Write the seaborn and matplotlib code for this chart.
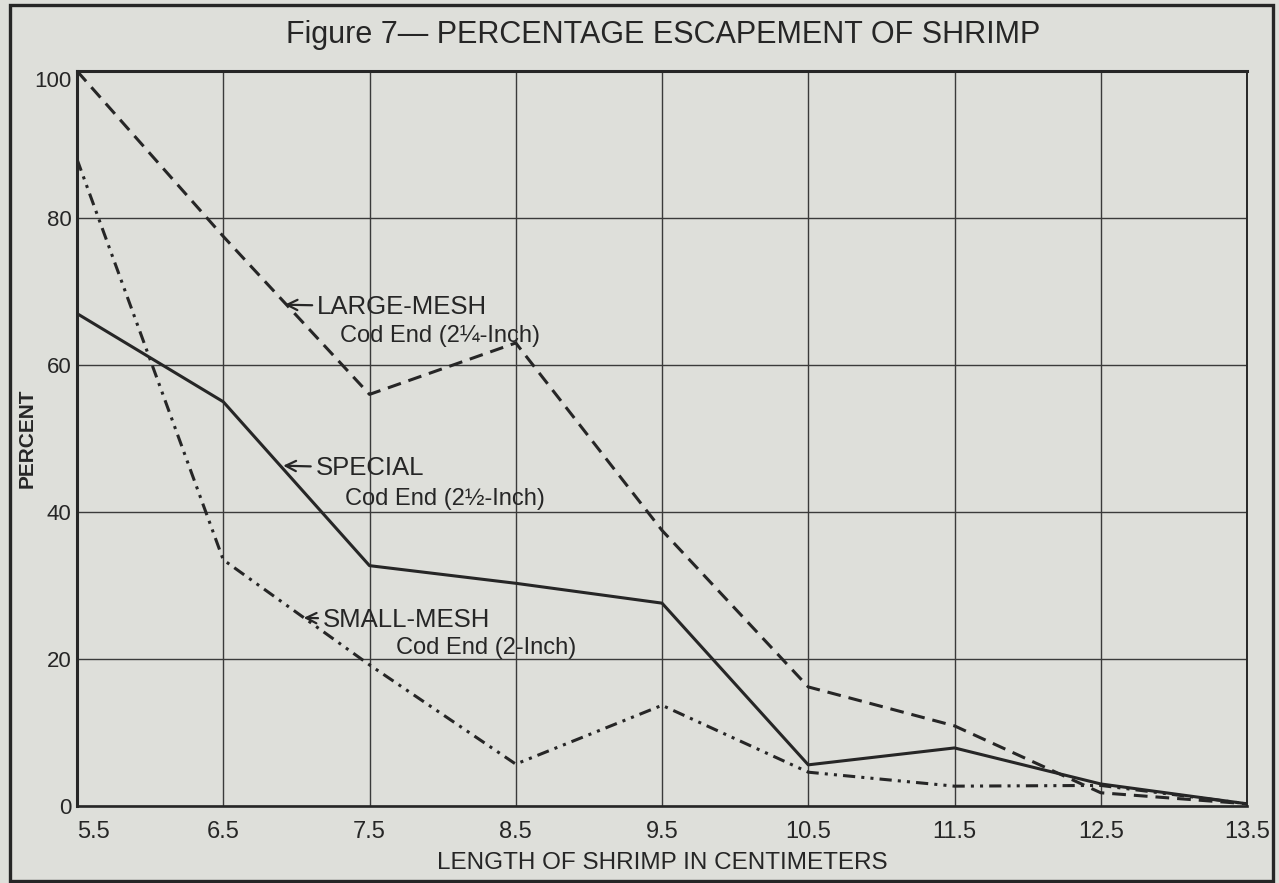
# Figure 7 - Percentage escapement of shrimp
# three cod ends

import pandas as pd
import matplotlib.pyplot as plt
from matplotlib.patches import Rectangle
import seaborn as sns

# --- 1. Data ---
length = [5.5, 6.5, 7.5, 8.5, 9.5, 10.5, 11.5, 12.5, 13.5]
large_mesh = [100, 77.5, 56, 63, 37.5, 16.2, 10.9, 1.8, 0.3]
special = [67, 55, 32.7, 30.3, 27.6, 5.6, 7.9, 3.0, 0.3]
small_mesh = [88, 33.5, 19.2, 5.7, 13.7, 4.6, 2.7, 2.8, 0.3]

x_ticks = [5.5, 6.5, 7.5, 8.5, 9.5, 10.5, 11.5, 12.5, 13.5]
y_ticks = [0, 20, 40, 60, 80, 100]

df = pd.DataFrame({
    'length': length * 3,
    'percent': large_mesh + special + small_mesh,
    'cod_end': ['Large'] * 9 + ['Special'] * 9 + ['Small'] * 9,
})

# --- 2. Style ---
sns.set_style("white")
paper = '#dedfda'
ink = '#262626'
plt.rcParams['font.family'] = ['Liberation Sans', 'DejaVu Sans']
plt.rcParams['figure.facecolor'] = paper
plt.rcParams['axes.facecolor'] = paper
plt.rcParams['text.color'] = ink

fig = plt.figure(figsize=(12.79, 8.83), dpi=100)
ax = fig.add_axes([0.0602, 0.0872, 0.9148, 0.8324])

# --- 3. Lines ---
sns.lineplot(data=df, x='length', y='percent', style='cod_end',
             dashes={'Large': (4.5, 2.6), 'Special': '', 'Small': (4, 2, 1, 2, 1, 2)},
             color=ink, linewidth=2.2, legend=False, ax=ax)

ax.set_xlim(5.5, 13.5)
ax.set_ylim(0, 100)
ax.set_xticks(x_ticks)
ax.set_yticks(y_ticks)
ax.set_xticklabels([str(t) for t in x_ticks], fontsize=17, color=ink)
ax.set_yticklabels([str(t) for t in y_ticks], fontsize=16, color=ink)
ax.get_xticklabels()[0].set_ha('left')
ax.get_yticklabels()[-1].set_va('top')
ax.tick_params(axis='x', length=0, pad=11)
ax.tick_params(axis='y', length=0, pad=4)
ax.grid(True, color='#3a3a3a', linewidth=1.0)

for side, lw in [('left', 2.2), ('bottom', 1.9), ('top', 2.2), ('right', 1.4)]:
    ax.spines[side].set_visible(True)
    ax.spines[side].set_color(ink)
    ax.spines[side].set_linewidth(lw)

ax.set_xlabel('LENGTH OF SHRIMP IN CENTIMETERS', fontsize=17.5, labelpad=6, color=ink)
ax.set_ylabel('')
fig.text(27 / 1279, 1 - 438 / 883, 'PERCENT', rotation=90, fontsize=15,
         fontweight='bold', ha='center', va='center', color=ink)

# --- 4. Labels on the curves ---
arrow = dict(arrowstyle='->', color=ink, lw=1.6, shrinkA=1, shrinkB=0)
ax.annotate('LARGE-MESH', xy=(6.92, 68.2), xytext=(7.14, 67.9), fontsize=18.5,
            ha='left', va='center', arrowprops=arrow)
ax.text(7.30, 63.9, 'Cod End (2¼-Inch)', fontsize=17, ha='left', va='center')
ax.annotate('SPECIAL', xy=(6.91, 46.3), xytext=(7.13, 46.0), fontsize=18.5,
            ha='left', va='center', arrowprops=arrow)
ax.text(7.33, 41.8, 'Cod End (2½-Inch)', fontsize=17, ha='left', va='center')
ax.annotate('SMALL-MESH', xy=(7.05, 25.6), xytext=(7.18, 25.3), fontsize=18.5,
            ha='left', va='center', arrowprops=arrow)
ax.text(7.68, 21.5, 'Cod End (2-Inch)', fontsize=17, ha='left', va='center')

# --- 5. Title and page border ---
fig.text(663 / 1279, 1 - 35 / 883, 'Figure 7\u2014 PERCENTAGE ESCAPEMENT OF SHRIMP',
         fontsize=22, ha='center', va='center', color=ink)
fig.patches.append(Rectangle((10 / 1279, 2 / 883), 1263 / 1279, 876 / 883,
                             transform=fig.transFigure, fill=False,
                             edgecolor=ink, linewidth=2.4))

plt.savefig('out.png', dpi=100)
print("Chart saved!")
